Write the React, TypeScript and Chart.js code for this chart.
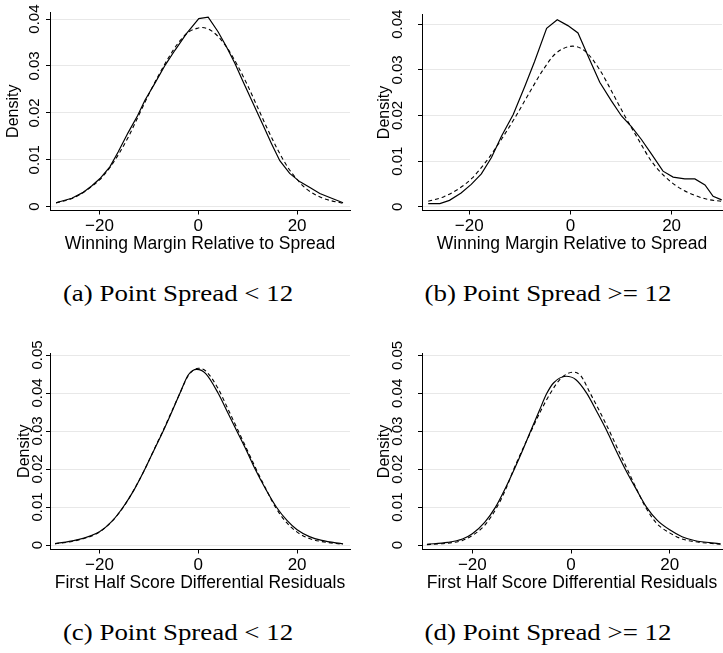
import React, { useEffect, useRef } from 'react';
import { Chart, registerables } from 'chart.js';

Chart.register(...registerables);
Chart.defaults.font.family = "'Liberation Sans', Arial, sans-serif";
Chart.defaults.color = '#000';

// Shared axis ticks
const xTickValues = [-20, 0, 20];
const xTickLabels = ['\u221220', '0', '20'];
const yTickValuesTop = [0, 0.01, 0.02, 0.03, 0.04];
const yTickLabelsTop = ['0', '0.01', '0.02', '0.03', '0.04'];
const yTickValuesBottom = [0, 0.01, 0.02, 0.03, 0.04, 0.05];
const yTickLabelsBottom = ['0', '0.01', '0.02', '0.03', '0.04', '0.05'];

// (a) Winning margin relative to spread, point spread < 12
const aKernelX = [-28.8, -25.6, -23.4, -21.6, -19.9, -17.9, -16.2, -14.2, -12.3, -10.8, -8.8, -6.7, -4.7, -2.4, 0.1, 2.0, 4.0, 5.7, 7.4, 9.1, 11.1, 13.1, 14.8, 16.5, 18.5, 20.6, 22.6, 24.6, 27.0, 29.3];
const aKernelY = [0.00085, 0.0018, 0.003, 0.0044, 0.006, 0.0085, 0.0117, 0.0158, 0.0194, 0.0227, 0.0263, 0.0302, 0.0334, 0.0369, 0.0401, 0.0404, 0.0373, 0.0341, 0.0306, 0.0266, 0.022, 0.0174, 0.0135, 0.0098, 0.0071, 0.0053, 0.0041, 0.0028, 0.0018, 0.00085];
const aNormalX = [-28.8, -25, -22, -20, -18, -16, -14, -12, -10, -8, -6, -4, -2, 0, 0.5, 2, 4, 6, 8, 10, 12, 14, 16, 18, 20, 22, 25, 29.3];
const aNormalY = [0.0008, 0.002, 0.004, 0.0057, 0.0082, 0.0114, 0.0152, 0.0196, 0.024, 0.0281, 0.0318, 0.035, 0.0372, 0.0381, 0.0382, 0.0379, 0.0363, 0.0336, 0.03, 0.0258, 0.0212, 0.0166, 0.0123, 0.0086, 0.0058, 0.0037, 0.0019, 0.0007];

// (b) Winning margin relative to spread, point spread >= 12
const bKernelX = [-28.1, -25.8, -23.9, -21.6, -19.6, -17.6, -15.6, -13.6, -11.3, -9.0, -7.1, -4.7, -2.6, -0.5, 1.5, 3.7, 5.8, 8.1, 10.1, 12.1, 14.0, 16.0, 18.3, 20.3, 22.6, 24.6, 26.6, 28.2, 29.9];
const bKernelY = [0.0007, 0.0007, 0.0014, 0.003, 0.0049, 0.0072, 0.0108, 0.0155, 0.0202, 0.0264, 0.0318, 0.0391, 0.041, 0.0397, 0.0381, 0.0325, 0.0273, 0.0232, 0.0199, 0.0175, 0.0148, 0.0116, 0.0078, 0.0065, 0.0061, 0.0061, 0.0048, 0.0023, 0.0015];
const bNormalX = [-28.1, -25, -22, -19.5, -16.6, -13.5, -10.7, -8, -5.4, -3, 0.5, 3, 5.8, 8.3, 10.7, 13.3, 16.0, 18.5, 21.3, 24.6, 27.2, 29.9];
const bNormalY = [0.0012, 0.0022, 0.004, 0.0062, 0.01, 0.015, 0.02, 0.0252, 0.03, 0.0335, 0.0352, 0.034, 0.03, 0.025, 0.02, 0.015, 0.01, 0.0068, 0.0043, 0.0025, 0.0016, 0.0012];

// (c) First half score differential residuals, point spread < 12
const cKernelX = [-29, -25, -20, -17.5, -15.2, -13, -10.8, -9, -7.1, -5.3, -3.7, -2, -0.3, 1.5, 4.0, 5.9, 7.8, 9.7, 11.5, 13.6, 15.8, 18, 20, 22.5, 25, 29.3];
const cKernelY = [0.0004, 0.0012, 0.0035, 0.0062, 0.01, 0.0145, 0.02, 0.0249, 0.03, 0.0352, 0.04, 0.0448, 0.0462, 0.0451, 0.04, 0.035, 0.03, 0.025, 0.02, 0.0148, 0.01, 0.0064, 0.004, 0.0022, 0.0012, 0.0003];
const cNormalX = [-29, -25, -20, -17.5, -15.2, -13, -10.8, -9, -7.1, -5.3, -3.7, -2, 0, 1.5, 4.0, 6, 8, 9.9, 11.7, 13.6, 15.6, 17.8, 20, 22.5, 25, 29.3];
const cNormalY = [0.0003, 0.0011, 0.0034, 0.0062, 0.0099, 0.0146, 0.02, 0.025, 0.0302, 0.0354, 0.04, 0.0446, 0.0465, 0.0458, 0.0412, 0.0358, 0.0303, 0.025, 0.02, 0.015, 0.01, 0.006, 0.0034, 0.0017, 0.0009, 0.0002];

// (d) First half score differential residuals, point spread >= 12
const dKernelX = [-29.2, -25, -22, -20, -17.5, -15.3, -13.3, -11.5, -9.8, -8.2, -6.5, -4.9, -3.5, -1, 1, 3.2, 5.3, 7.3, 9.1, 11.0, 13.1, 15.3, 17.5, 20, 22.5, 25, 30.3];
const dKernelY = [0.0002, 0.0007, 0.0016, 0.003, 0.006, 0.01, 0.015, 0.02, 0.025, 0.03, 0.0352, 0.04, 0.0428, 0.0445, 0.0436, 0.04, 0.035, 0.03, 0.025, 0.02, 0.015, 0.01, 0.0065, 0.004, 0.0022, 0.0012, 0.0003];
const dNormalX = [-29.2, -25, -22, -20, -17.5, -15.0, -13.2, -11.6, -9.9, -8.1, -6.2, -4.2, -2, 0.5, 2, 3.9, 5.9, 7.8, 9.6, 11.4, 13.2, 15.1, 17.3, 20, 22.5, 25, 30.3];
const dNormalY = [0.0001, 0.0005, 0.0012, 0.0025, 0.0052, 0.01, 0.0148, 0.02, 0.025, 0.03, 0.0352, 0.04, 0.044, 0.0456, 0.0446, 0.04, 0.035, 0.03, 0.025, 0.02, 0.015, 0.01, 0.0058, 0.0032, 0.0016, 0.0009, 0.0002];

const xTitleTop = 'Winning Margin Relative to Spread';
const xTitleBottom = 'First Half Score Differential Residuals';

type PanelSpec = {
  left: number;
  top: number;
  width: number;
  height: number;
  kernelX: number[];
  kernelY: number[];
  normalX: number[];
  normalY: number[];
  smoothKernel: boolean;
  xMin: number;
  xMax: number;
  yMin: number;
  yMax: number;
  yTicks: number[];
  yLabels: string[];
  xTitle: string;
  yAxisWidth: number;
  yLabelPad: number;
  yTitlePad: number;
  padTop: number;
  padRight: number;
};

const panels: PanelSpec[] = [
  {
    left: 0, top: 0, width: 360, height: 262,
    kernelX: aKernelX, kernelY: aKernelY, normalX: aNormalX, normalY: aNormalY, smoothKernel: false,
    xMin: -30.02, xMax: 30.71, yMin: -0.00081, yMax: 0.04151,
    yTicks: yTickValuesTop, yLabels: yTickLabelsTop, xTitle: xTitleTop,
    yAxisWidth: 50, yLabelPad: -3.6, yTitlePad: 4.4, padTop: 12, padRight: 10,
  },
  {
    left: 360, top: 0, width: 363, height: 262,
    kernelX: bKernelX, kernelY: bKernelY, normalX: bNormalX, normalY: bNormalY, smoothKernel: false,
    xMin: -29.33, xMax: 29.96, yMin: -0.00082, yMax: 0.04216,
    yTicks: yTickValuesTop, yLabels: yTickLabelsTop, xTitle: xTitleTop,
    yAxisWidth: 62, yLabelPad: 5.4, yTitlePad: 15.4, padTop: 12, padRight: 1,
  },
  {
    left: 0, top: 339, width: 360, height: 262,
    kernelX: cKernelX, kernelY: cKernelY, normalX: cNormalX, normalY: cNormalY, smoothKernel: true,
    xMin: -30.02, xMax: 30.71, yMin: -0.00118, yMax: 0.05053,
    yTicks: yTickValuesBottom, yLabels: yTickLabelsBottom, xTitle: xTitleBottom,
    yAxisWidth: 50, yLabelPad: -6.6, yTitlePad: 15.4, padTop: 14, padRight: 10,
  },
  {
    left: 360, top: 339, width: 363, height: 262,
    kernelX: dKernelX, kernelY: dKernelY, normalX: dNormalX, normalY: dNormalY, smoothKernel: true,
    xMin: -30.2, xMax: 30.6, yMin: -0.00118, yMax: 0.05053,
    yTicks: yTickValuesBottom, yLabels: yTickLabelsBottom, xTitle: xTitleBottom,
    yAxisWidth: 62, yLabelPad: 5.4, yTitlePad: 15.4, padTop: 14, padRight: 1,
  },
];

const captions = [
  { text: '(a) Point Spread < 12', x: 177.5, top: 281 },
  { text: '(b) Point Spread >= 12', x: 548, top: 281 },
  { text: '(c) Point Spread < 12', x: 178, top: 620 },
  { text: '(d) Point Spread >= 12', x: 548, top: 620 },
];

const toPoints = (xs: number[], ys: number[]) => xs.map((x, i) => ({ x, y: ys[i] }));

function DensityPanel({ spec }: { spec: PanelSpec }) {
  const ref = useRef<HTMLCanvasElement>(null);

  useEffect(() => {
    const canvas = ref.current;
    if (!canvas) return;
    const chart = new Chart(canvas, {
      type: 'line',
      data: {
        datasets: [
          {
            data: toPoints(spec.kernelX, spec.kernelY),
            borderColor: '#000',
            borderWidth: 1.2,
            pointRadius: 0,
            fill: false,
            tension: 0,
            cubicInterpolationMode: spec.smoothKernel ? 'monotone' : 'default',
          },
          {
            data: toPoints(spec.normalX, spec.normalY),
            borderColor: '#000',
            borderWidth: 1.1,
            borderDash: [4, 3],
            pointRadius: 0,
            fill: false,
            cubicInterpolationMode: 'monotone',
          },
        ],
      },
      options: {
        responsive: false,
        animation: false,
        devicePixelRatio: 1,
        layout: { padding: { top: spec.padTop, right: spec.padRight, left: 0, bottom: 0 } },
        plugins: { legend: { display: false }, tooltip: { enabled: false } },
        scales: {
          x: {
            type: 'linear',
            min: spec.xMin,
            max: spec.xMax,
            afterBuildTicks: (scale: any) => {
              scale.ticks = xTickValues.map((value) => ({ value }));
            },
            afterFit: (scale: any) => {
              scale.height = 51.5;
            },
            ticks: {
              callback: (_v: any, i: number) => xTickLabels[i],
              font: { size: 17 },
              color: '#000',
              padding: 1.3,
              minRotation: 0,
              maxRotation: 0,
              autoSkip: false,
            },
            grid: {
              drawOnChartArea: false,
              drawTicks: true,
              tickLength: 4,
              tickColor: '#000',
              color: '#000',
            },
            border: { display: true, color: '#000', width: 1 },
            title: {
              display: true,
              text: spec.xTitle,
              font: { size: 17.5 },
              color: '#000',
              padding: { top: 0, bottom: 6.9 },
            },
          },
          y: {
            type: 'linear',
            min: spec.yMin,
            max: spec.yMax,
            afterBuildTicks: (scale: any) => {
              scale.ticks = spec.yTicks.map((value) => ({ value }));
            },
            afterFit: (scale: any) => {
              scale.width = spec.yAxisWidth;
            },
            ticks: {
              callback: (_v: any, i: number) => spec.yLabels[i],
              font: { size: 15 },
              color: '#000',
              minRotation: 90,
              maxRotation: 90,
              crossAlign: 'center',
              padding: spec.yLabelPad,
              autoSkip: false,
            },
            grid: {
              color: '#e8e8e8',
              lineWidth: 1,
              drawTicks: true,
              tickLength: 4,
              tickColor: '#000',
            },
            border: { display: true, color: '#000', width: 1 },
            title: {
              display: true,
              text: 'Density',
              font: { size: 16 },
              color: '#000',
              padding: { top: spec.yTitlePad, bottom: 0 },
            },
          },
        },
      } as any,
    });
    return () => chart.destroy();
  }, [spec]);

  return (
    <canvas
      ref={ref}
      width={spec.width}
      height={spec.height}
      style={{ position: 'absolute', left: spec.left, top: spec.top, width: spec.width, height: spec.height }}
    />
  );
}

export default function App() {
  return (
    <div style={{ position: 'absolute', left: 0, top: 0, width: 723, height: 653, background: '#fff', overflow: 'hidden' }}>
      {panels.map((p, i) => (
        <DensityPanel key={i} spec={p} />
      ))}
      {captions.map((c, i) => (
        <div
          key={'cap' + i}
          style={{
            position: 'absolute',
            left: c.x,
            top: c.top,
            fontFamily: "'Liberation Serif', 'Times New Roman', serif",
            fontSize: 24,
            lineHeight: '24px',
            whiteSpace: 'nowrap',
            color: '#000',
            transform: 'translateX(-50%) scaleX(1.12)',
          }}
        >
          {c.text}
        </div>
      ))}
    </div>
  );
}
